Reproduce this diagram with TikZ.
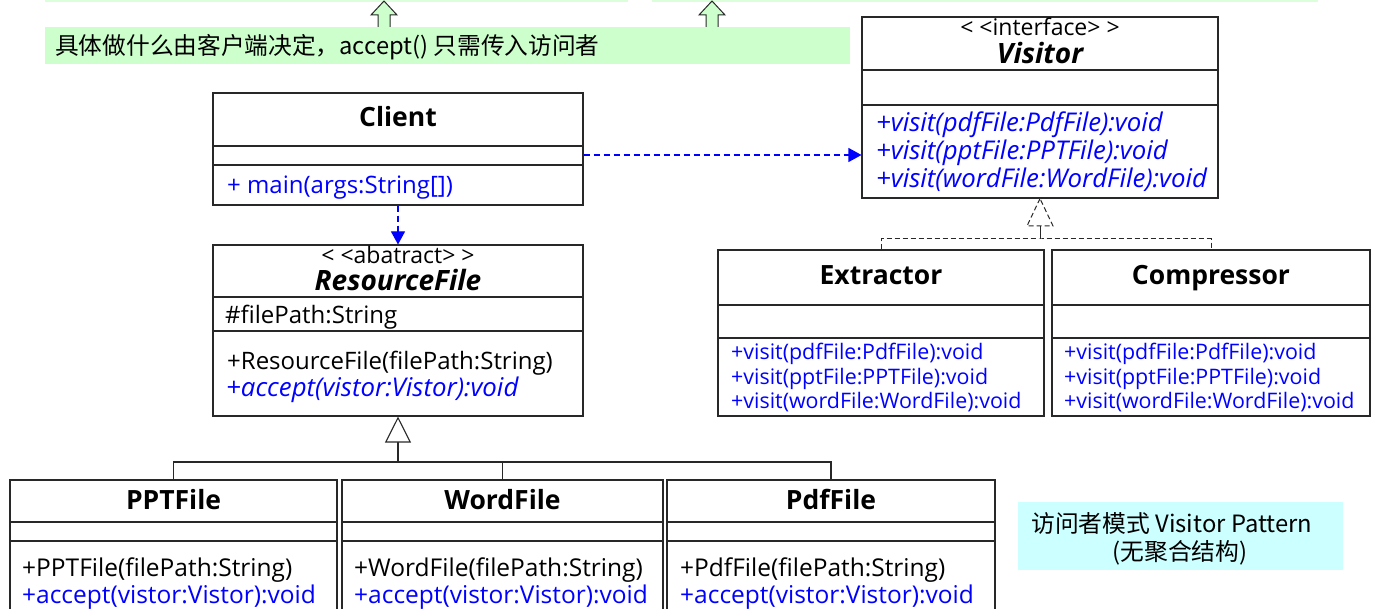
\documentclass[tikz,border=0pt]{standalone}
\usepackage{fontspec}
\setmainfont{Open Sans}
\newfontfamily\cjk{Noto Sans CJK SC}
\usetikzlibrary{arrows.meta,calc}
\definecolor{lgreen}{RGB}{204,255,204}
\definecolor{lcyan}{RGB}{204,255,255}
\definecolor{uml}{RGB}{0,0,255}
\definecolor{frame}{RGB}{40,40,40}
\tikzset{
  cls/.style={draw=frame, line width=1.1pt, fill=white, rectangle, inner sep=0pt},
  divider/.style={draw=frame, line width=1.4pt},
  cname/.style={font=\fontsize{26.5}{28}\selectfont\bfseries, inner sep=0pt, anchor=base},
  ciname/.style={font=\fontsize{28}{30}\selectfont\bfseries\itshape, inner sep=0pt, anchor=base},
  stereo/.style={font=\fontsize{23}{25}\selectfont, inner sep=0pt, anchor=base},
  mbig/.style={font=\fontsize{24}{26}\selectfont, anchor=base west, inner sep=0pt},
  mital/.style={font=\fontsize{25.8}{27}\selectfont\itshape, anchor=base west, inner sep=0pt, text=uml},
  msmall/.style={font=\fontsize{21.4}{23}\selectfont, anchor=base west, inner sep=0pt, text=uml},
  mrow/.style={font=\fontsize{24.5}{26}\selectfont, anchor=base west, inner sep=0pt},
  dep/.style={draw=uml, line width=1.1pt, dash pattern=on 6pt off 4pt, -{Triangle[width=14pt,length=13pt]}, uml},
  inh/.style={draw=frame, line width=1.1pt},
  real/.style={draw=frame, line width=1pt, dash pattern=on 5pt off 3pt},
  note/.style={inner sep=0pt, rectangle},
  blockarrow/.style={draw=frame, fill=lgreen, line width=1pt, line join=miter}
}
\begin{document}
\begin{tikzpicture}[x=1pt,y=-1pt]
\useasboundingbox (0,0) rectangle (1376,609);
\fill[white] (0,0) rectangle (1376,609);
% top partial notes
\fill[lgreen!70!white] (45,-20) rectangle (628,2);
\fill[lgreen!70!white] (652,-20) rectangle (1318,2);
% green note
\node[note, fill=lgreen, minimum width=805pt, minimum height=37pt] (hint) at (447.5,45.5) {};
\node[anchor=base west, inner sep=0pt, font=\cjk\fontsize{23.7}{25}\selectfont] (hinttext) at (55,55) {具体做什么由客户端决定，accept() 只需传入访问者};
% block arrows
\draw[blockarrow] (378,27) -- (378,15) -- (371,15) -- (384,1) -- (397,15) -- (390,15) -- (390,27);
\draw[blockarrow] (706,27) -- (706,15) -- (699,15) -- (712,1) -- (725,15) -- (718,15) -- (718,27);

% Client
\node[cls, minimum width=370pt, minimum height=112pt] (client) at (398,149) {};
\draw[divider] (client.west |- 0,146) -- (client.east |- 0,146);
\draw[divider] (client.west |- 0,165) -- (client.east |- 0,165);
\node[cname] (clientname) at (398,127) {Client};
\node[mbig, text=uml] (clientm) at (227,194) {+ main(args:String[])};

% Visitor
\node[cls, minimum width=356pt, minimum height=181pt] (visitor) at (1040,107.5) {};
\draw[divider] (visitor.west |- 0,70) -- (visitor.east |- 0,70);
\draw[divider] (visitor.west |- 0,105) -- (visitor.east |- 0,105);
\node[stereo] (vst) at (1040,36) {<\kern6pt<interface>\kern6pt>};
\node[ciname] (vname) at (1040,64) {Visitor};
\node[mital] (vm1) at (876,132) {+visit(pdfFile:PdfFile):void};
\node[mital] (vm2) at (876,160) {+visit(pptFile:PPTFile):void};
\node[mital] (vm3) at (876,188) {+visit(wordFile:WordFile):void};

% ResourceFile
\node[cls, minimum width=370pt, minimum height=171pt] (resource) at (398,330.5) {};
\draw[divider] (resource.west |- 0,297) -- (resource.east |- 0,297);
\draw[divider] (resource.west |- 0,331) -- (resource.east |- 0,331);
\node[stereo] (rst) at (398,264) {<\kern6pt<abatract>\kern6pt>};
\node[ciname] (rname) at (398,291) {ResourceFile};
\node[mbig] (ra) at (225,324) {\#filePath:String};
\node[mbig] (rm1) at (227,370) {+ResourceFile(filePath:String)};
\node[mital] (rm2) at (226,397) {+accept(vistor:Vistor):void};

% Extractor / Compressor
\node[cls, minimum width=326pt, minimum height=166pt] (extractor) at (881,333) {};
\draw[divider] (extractor.west |- 0,305) -- (extractor.east |- 0,305);
\draw[divider] (extractor.west |- 0,338) -- (extractor.east |- 0,338);
\node[cname] (ename) at (881,285) {Extractor};
\node[msmall] (em1) at (731,360) {+visit(pdfFile:PdfFile):void};
\node[msmall] (em2) at (731,384.5) {+visit(pptFile:PPTFile):void};
\node[msmall] (em3) at (731,409) {+visit(wordFile:WordFile):void};

\node[cls, minimum width=318pt, minimum height=166pt] (compressor) at (1211,333) {};
\draw[divider] (compressor.west |- 0,305) -- (compressor.east |- 0,305);
\draw[divider] (compressor.west |- 0,338) -- (compressor.east |- 0,338);
\node[cname] (cname) at (1211,285) {Compressor};
\node[msmall] (cm1) at (1064,360) {+visit(pdfFile:PdfFile):void};
\node[msmall] (cm2) at (1064,384.5) {+visit(pptFile:PPTFile):void};
\node[msmall] (cm3) at (1064,409) {+visit(wordFile:WordFile):void};

% PPTFile, WordFile, PdfFile
\node[cls, minimum width=327pt, minimum height=150pt] (ppt) at (173.5,555) {};
\draw[divider] (ppt.west |- 0,522) -- (ppt.east |- 0,522);
\draw[divider] (ppt.west |- 0,541) -- (ppt.east |- 0,541);
\node[cname] (pptname) at (173.5,509) {PPTFile};
\node[mrow] (pptm1) at (22,576) {+PPTFile(filePath:String)};
\node[mrow, text=uml] (pptm2) at (22,603) {+accept(vistor:Vistor):void};

\node[cls, minimum width=321pt, minimum height=150pt] (word) at (502.5,555) {};
\draw[divider] (word.west |- 0,522) -- (word.east |- 0,522);
\draw[divider] (word.west |- 0,541) -- (word.east |- 0,541);
\node[cname] (wordname) at (502.5,509) {WordFile};
\node[mrow] (wordm1) at (354,576) {+WordFile(filePath:String)};
\node[mrow, text=uml] (wordm2) at (354,603) {+accept(vistor:Vistor):void};

\node[cls, minimum width=328pt, minimum height=150pt] (pdf) at (831,555) {};
\draw[divider] (pdf.west |- 0,522) -- (pdf.east |- 0,522);
\draw[divider] (pdf.west |- 0,541) -- (pdf.east |- 0,541);
\node[cname] (pdfname) at (831,509) {PdfFile};
\node[mrow] (pdfm1) at (680,576) {+PdfFile(filePath:String)};
\node[mrow, text=uml] (pdfm2) at (680,603) {+accept(vistor:Vistor):void};

% cyan note
\node[note, fill=lcyan, minimum width=325pt, minimum height=68pt] (title) at (1180.5,536) {};
\node[anchor=base west, inner sep=0pt, font=\cjk\fontsize{23.8}{25}\selectfont] (title1) at (1031,532) {访问者模式 Visitor Pattern};
\node[anchor=base, inner sep=0pt, font=\cjk\fontsize{23.8}{25}\selectfont] (title2) at (1180,560) {(无聚合结构)};

% dependencies
\draw[dep] (client.east |- 0,155) -- (visitor.west |- 0,155);
\draw[dep] (client.south) -- (resource.north);

% inheritance
\coordinate (inhjoin) at (398,462);
\draw[inh] (ppt.north) |- (inhjoin) -| (pdf.north);
\draw[inh] (word.north) -- (word.north |- inhjoin);
\draw[inh, -{Triangle[open, width=26pt, length=26pt, fill=white]}] (inhjoin) -- (resource.south);

% realization
\coordinate (realjoin) at (1040,239);
\coordinate (realbase) at (1040,226);
\draw[real] (extractor.north) |- (realjoin) -| (compressor.north);
\draw[draw=frame, line width=1pt] (realjoin) -- (realbase);
\draw[real, fill=white] (visitor.south) -- ($(realbase)+(-13,0)$) -- ($(realbase)+(13,0)$) -- cycle;
\end{tikzpicture}
\end{document}
